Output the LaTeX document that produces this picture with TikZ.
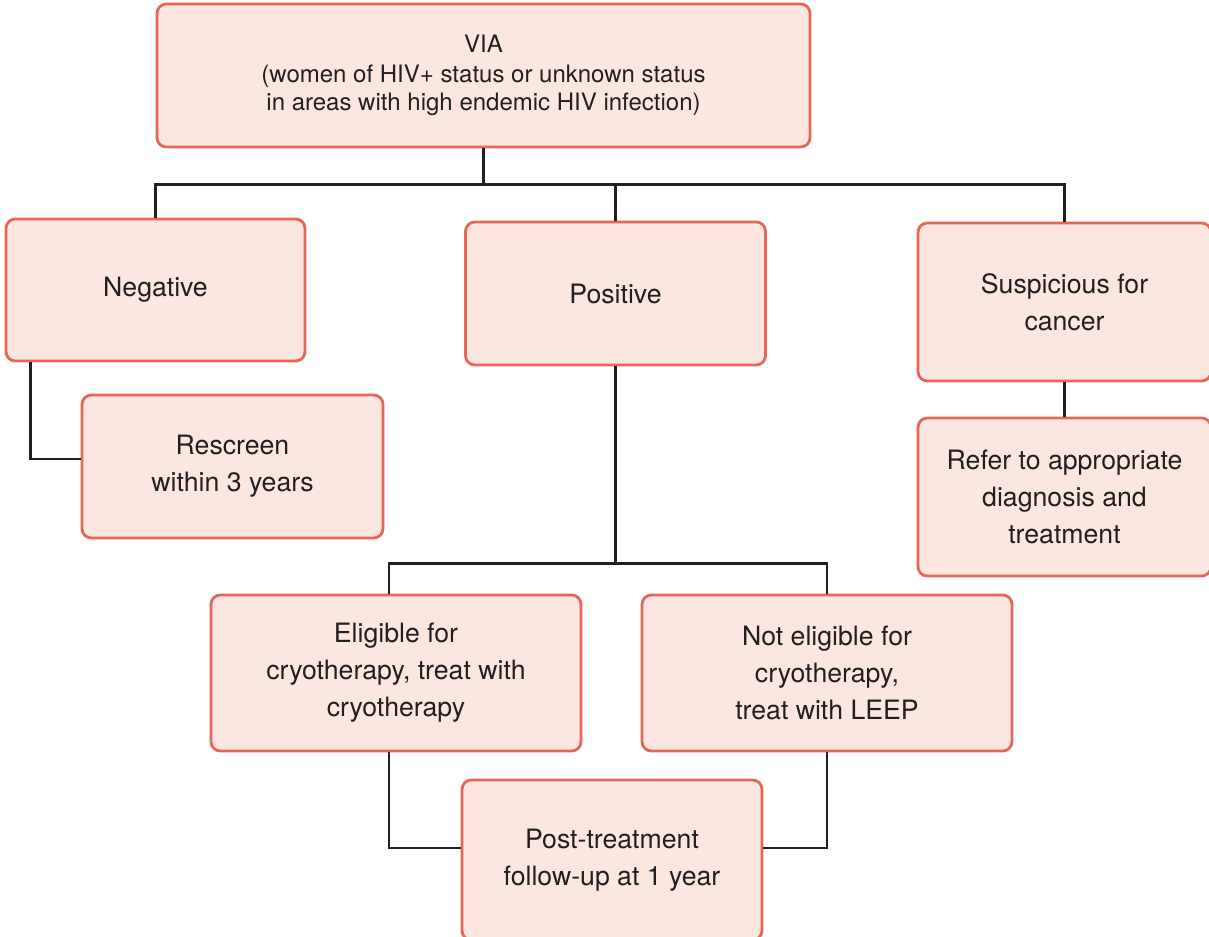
\documentclass[tikz,border=0pt]{standalone}
\usepackage{fontspec}
\setmainfont{TeX Gyre Heros}
\usetikzlibrary{calc}
\definecolor{boxfill}{HTML}{FCE7E0}
\definecolor{boxline}{HTML}{E8655A}
\definecolor{ink}{HTML}{231F20}
\begin{document}
\begin{tikzpicture}[x=0.75pt,y=-0.75pt,
  box/.style={draw=boxline, fill=boxfill, line width=2.1pt, rounded corners=7pt,
    align=center, text=ink, inner sep=0pt, font=\fontsize{20}{27.75}\selectfont},
  conn/.style={draw=ink, line width=2pt}]
\useasboundingbox (0,0) rectangle (1209,937);
\node[box, minimum width=489.75pt, minimum height=107.25pt,
  font=\fontsize{18}{20.5}\selectfont] (via) at (483.5,75.5)
  {VIA\\[2pt](women of HIV+ status or unknown status\\in areas with high endemic HIV infection)};
\node[box, minimum width=224.25pt, minimum height=106.5pt] (neg) at (155.5,290) {Negative};
\node[box, minimum width=225.75pt, minimum height=107.25pt] (res) at (232.5,466.5) {Rescreen\\within 3 years};
\node[box, minimum width=225pt, minimum height=107.25pt] (pos) at (615.5,293.5) {Positive};
\node[box, minimum width=219.75pt, minimum height=118.5pt] (sus) at (1064.5,302) {Suspicious for\\cancer};
\node[box, minimum width=219.75pt, minimum height=118.5pt] (ref) at (1064.5,497) {Refer to appropriate\\diagnosis and\\treatment};
\node[box, minimum width=277.5pt, minimum height=117pt] (eli) at (396,673) {Eligible for\\cryotherapy, treat with\\cryotherapy};
\node[box, minimum width=277.5pt, minimum height=117pt] (nel) at (827,673) {Not eligible for\\cryotherapy,\\treat with LEEP};
\node[box, minimum width=225pt, minimum height=120pt] (post) at (612,860) {Post-treatment\\follow-up at 1 year};
% connectors
\draw[conn] (via.south) -- ++(0,36) coordinate (j1);
\draw[conn] (neg.north) |- (j1) -| (sus.north);
\draw[conn] (j1 -| pos.north) -- (pos.north);
\draw[conn] ($(neg.south west)+(26,0)$) |- ($(res.west)+(0,-7.5)$);
\draw[conn] (sus.south) -- (ref.north);
\draw[conn] (pos.south) -- ++(0,197) coordinate (j2);
\coordinate (elin) at ($(eli.north)+(-7,0)$);
\draw[conn] (elin) |- (j2) -| (nel.north);
\draw[conn] ($(eli.south)+(-7,0)$) |- ($(post.west)+(0,-12)$);
\draw[conn] (nel.south) |- ($(post.east)+(0,-12)$);
\end{tikzpicture}
\end{document}
